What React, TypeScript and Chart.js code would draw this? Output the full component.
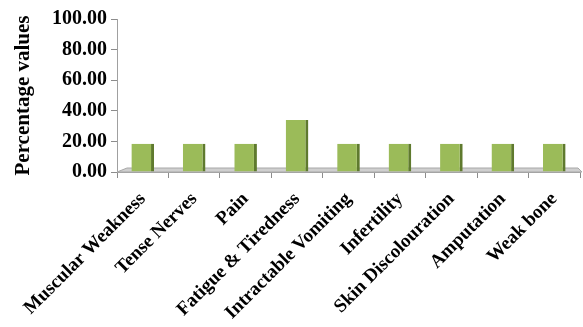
import React, { useEffect, useRef } from "react";
import { Chart, registerables } from "chart.js";

Chart.register(...registerables);

const categories = [
  "Muscular Weakness",
  "Tense Nerves",
  "Pain",
  "Fatigue & Tiredness",
  "Intractable Vomiting",
  "Infertility",
  "Skin Discolouration",
  "Amputation",
  "Weak bone",
];
const percentages = [18.5, 18.5, 18.5, 34, 18.5, 18.5, 18.5, 18.5, 18.5];
const yTicks = [0, 20, 40, 60, 80, 100];
const yTitle = "Percentage values";

const FONT = "'Liberation Serif', 'Times New Roman', serif";

const floorPlugin = {
  id: "floor",
  beforeDatasetsDraw(chart: any) {
    const { ctx, chartArea } = chart;
    const y0 = chart.scales.y.getPixelForValue(0);
    const l = chartArea.left;
    const r = chartArea.right;
    ctx.save();
    ctx.beginPath();
    ctx.moveTo(l, y0);
    ctx.lineTo(l + 10, y0 - 4);
    ctx.lineTo(r - 2, y0 - 4);
    ctx.lineTo(r + 2, y0);
    ctx.closePath();
    ctx.fillStyle = "#cfcfcf";
    ctx.fill();
    ctx.strokeStyle = "#a8a8a8";
    ctx.lineWidth = 1;
    ctx.stroke();
    ctx.restore();
  },
};

export default function App() {
  const ref = useRef<HTMLCanvasElement>(null);
  useEffect(() => {
    if (!ref.current) return;
    const chart = new Chart(ref.current, {
      type: "bar",
      data: {
        labels: categories,
        datasets: [
          {
            data: percentages,
            backgroundColor: "#9BBB59",
            borderColor: "#5f7a2e",
            borderWidth: { left: 0, top: 0, bottom: 0, right: 3 } as any,
            borderSkipped: false,
            barPercentage: 0.44,
            categoryPercentage: 1,
          },
        ],
      },
      plugins: [floorPlugin],
      options: {
        animation: false,
        responsive: false,
        maintainAspectRatio: false,
        layout: { padding: { top: 19, right: 3, left: 0, bottom: 0 } },
        plugins: { legend: { display: false }, tooltip: { enabled: false } },
        scales: {
          x: {
            offset: true,
            grid: {
              display: true,
              offset: true,
              drawOnChartArea: false,
              tickLength: 6,
              color: "#8c8c8c",
            },
            border: { color: "#a0a0a0" },
            ticks: {
              minRotation: 45,
              maxRotation: 45,
              autoSkip: false,
              padding: 10,
              color: "#000",
              font: { family: FONT, size: 19, weight: "bold" },
            },
            afterFit(scale: any) {
              scale.height = 155;
              scale.paddingLeft = 0;
              scale.paddingRight = 0;
            },
          },
          y: {
            min: 0,
            max: 100,
            afterBuildTicks(scale: any) {
              scale.ticks = yTicks.map((v) => ({ value: v }));
            },
            grid: {
              display: true,
              drawOnChartArea: false,
              tickLength: 6,
              color: "#8c8c8c",
            },
            border: { color: "#a0a0a0" },
            ticks: {
              color: "#000",
              padding: 4,
              font: { family: FONT, size: 20, weight: "bold" },
              callback: (v: any) => Number(v).toFixed(2),
            },
            title: {
              display: true,
              text: yTitle,
              color: "#000",
              font: { family: FONT, size: 21, weight: "bold" },
              padding: { top: 11, bottom: 0 },
            },
            afterFit(scale: any) {
              scale.width = 117;
            },
          },
        },
      },
    });
    return () => chart.destroy();
  }, []);
  return (
    <div style={{ position: "fixed", left: 0, top: 0, width: 583, height: 327, background: "#fff" }}>
      <canvas ref={ref} width={583} height={327} style={{ width: 583, height: 327 }} />
    </div>
  );
}
